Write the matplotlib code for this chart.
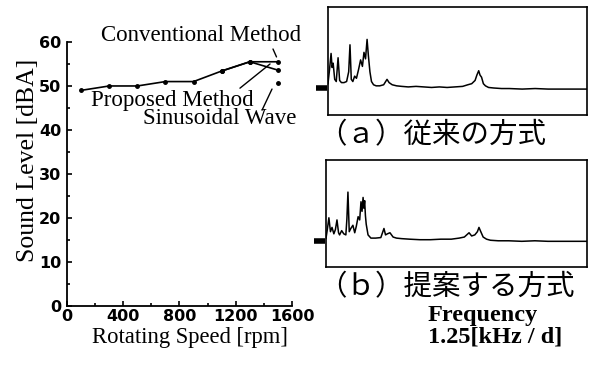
import matplotlib.pyplot as plt
from matplotlib.ticker import MultipleLocator

# 回転数と騒音レベル (左のグラフ)
speed = [100, 300, 500, 700, 900, 1100, 1300, 1500]
conventional = [49, 50, 50, 51, 51, 53.4, 55.5, 55.5]
proposed = [49, 50, 50, 51, 51, 53.4, 55.5, 53.6]
sine_speed = [1500]
sine_level = [50.6]

# 周波数スペクトル (a) 従来の方式
freq_a = [0, 0.6, 1.2, 1.6, 2.0, 2.6, 3.2, 3.9, 4.5, 5.2,
          6.2, 7.2, 8.0, 8.5, 9.0, 9.6, 10.3, 11.0, 11.8, 12.6,
          13.3, 13.9, 14.5, 15.1, 15.6, 16.2, 16.8, 17.6, 18.6, 20.0,
          21.5, 22.8, 23.6, 24.8, 26.5, 28.5, 31, 34, 37, 40,
          43, 46, 49, 52, 54, 55.5, 56.8, 57.5, 58.2, 58.7,
          59.3, 60.0, 60.8, 62, 64, 67, 70, 75, 80, 85,
          90, 95, 100]
level_a = [29, 42, 57, 44, 48, 33, 31, 53, 32, 30,
           30, 31, 40, 65, 33, 31, 36, 34, 42, 51,
           45, 58, 52, 70, 55, 40, 31, 28, 27, 27,
           28, 33, 30, 28, 27, 26.5, 26, 26.5, 26, 25.5,
           26, 25.5, 26, 26.5, 28, 29, 32, 37, 41, 37,
           35, 29, 27, 25.5, 25, 24.5, 24.5, 24, 24.5, 24,
           24, 24, 24]
ref_a = 25

# 周波数スペクトル (b) 提案する方式
freq_b = [0, 0.5, 1.1, 1.7, 2.3, 3.0, 3.6, 4.2, 4.8, 5.2,
          6.0, 6.8, 7.6, 8.0, 8.4, 8.9, 9.5, 10.3, 11.0, 11.6,
          12.3, 12.9, 13.4, 13.8, 14.2, 14.5, 14.8, 15.1, 15.4, 16.1,
          17.2, 19, 21, 22.2, 22.8, 23.5, 24.5, 25.7, 27, 29,
          32, 36, 40, 44, 48, 51, 53, 54.8, 55.8, 57,
          58, 58.6, 59.3, 60.2, 61.5, 63, 66, 70, 75, 80,
          85, 90, 95, 100]
level_b = [27, 35, 46, 33, 37, 31, 35, 44, 32, 30,
           34, 31, 30, 45, 70, 33, 36, 39, 32, 38,
           47, 44, 61, 52, 65, 55, 62, 48, 40, 30,
           27, 27, 27.5, 36, 30, 31, 32, 28, 27, 26.5,
           26, 25.5, 25.5, 26, 26, 27, 28, 32, 29, 30,
           33, 37, 33, 28, 26, 25, 24.5, 24.5, 24, 24.5,
           24, 24, 24, 24]
ref_b = 24

serif = 'Liberation Serif'
jp = ['Noto Sans CJK JP', 'DejaVu Sans']

fig = plt.figure(figsize=(5.92, 3.74), dpi=100)

# ---- 左: 騒音レベル
ax = fig.add_axes([0.1132, 0.1818, 0.380, 0.706])
ax.plot(speed, conventional, color='black', lw=1.2, marker='o', ms=2.5)
ax.plot(speed[-3:], proposed[-3:], color='black', lw=1.2, marker='o', ms=2.5)
ax.plot(sine_speed, sine_level, 'o', color='black', ms=2.5)
ax.set_xlim(0, 1600)
ax.set_ylim(0, 60)
ax.xaxis.set_major_locator(MultipleLocator(400))
ax.xaxis.set_minor_locator(MultipleLocator(200))
ax.yaxis.set_major_locator(MultipleLocator(10))
ax.yaxis.set_minor_locator(MultipleLocator(5))
ax.tick_params(which='both', direction='in', width=1.2)
ax.tick_params(which='major', length=3.5)
ax.tick_params(which='minor', length=2)
ax.tick_params(axis='x', pad=2)
ax.tick_params(axis='y', pad=4)
for lab in ax.get_xticklabels() + ax.get_yticklabels():
    lab.set_fontfamily('DejaVu Sans')
    lab.set_fontweight('bold')
    lab.set_fontsize(11.5)
for s in ['top', 'right']:
    ax.spines[s].set_visible(False)
for s in ['left', 'bottom']:
    ax.spines[s].set_linewidth(1.3)

ax.set_xlabel('Rotating Speed [rpm]', family=serif, fontsize=16.3)
ax.set_ylabel('Sound Level [dBA]', family=serif, fontsize=18.5)
ax.xaxis.label.set_va('center')
ax.yaxis.label.set_va('center')
ax.xaxis.set_label_coords(0.547, -0.121)
ax.yaxis.set_label_coords(-0.173, 0.553)

ax.text(953, 61.4, 'Conventional Method', family=serif, fontsize=16.5,
        ha='center', va='center', clip_on=False)
ax.text(747, 46.8, 'Proposed Method', family=serif, fontsize=16.5,
        ha='center', va='center')
ax.text(1088, 42.5, 'Sinusoidal Wave', family=serif, fontsize=16.5,
        ha='center', va='center')
# 引き出し線
ax.annotate('', xy=(1490, 56.6), xytext=(1465, 58.4),
            arrowprops=dict(arrowstyle='-', lw=1, shrinkA=0, shrinkB=0),
            annotation_clip=False)
ax.annotate('', xy=(1444, 55.0), xytext=(1230, 49.5),
            arrowprops=dict(arrowstyle='-', lw=1, shrinkA=0, shrinkB=0))
ax.annotate('', xy=(1458, 49.3), xytext=(1387, 44.5),
            arrowprops=dict(arrowstyle='-', lw=1, shrinkA=0, shrinkB=0))

# ---- 右: スペクトル
def spectrum(rect, freq, level, ref):
    sx = fig.add_axes(rect)
    sx.plot(freq, level, color='black', lw=1.1)
    sx.plot([-4.6, -0.5], [ref, ref], color='black', lw=4,
            solid_capstyle='butt', clip_on=False)
    sx.set_xlim(0, 100)
    sx.set_ylim(0, 100)
    sx.set_xticks([])
    sx.set_yticks([])
    for s in sx.spines.values():
        s.set_linewidth(1.2)
    return sx

spectrum([0.554, 0.6925, 0.4375, 0.2888], freq_a, level_a, ref_a)
spectrum([0.5507, 0.2861, 0.4409, 0.2861], freq_b, level_b, ref_b)

fig.text(0.537, 1 - 135 / 374, '（ａ）従来の方式', family=jp, fontsize=20.5,
         ha='left', va='center')
fig.text(0.537, 1 - 287 / 374, '（ｂ）提案する方式', family=jp, fontsize=20.5,
         ha='left', va='center')
fig.text(428 / 592, 1 - 315 / 374, 'Frequency', family=serif, fontsize=17.5,
         fontweight='bold', ha='left', va='center')
fig.text(428 / 592, 1 - 337 / 374, '1.25[kHz / d]', family=serif, fontsize=17.5,
         fontweight='bold', ha='left', va='center')

fig.savefig('out.png', dpi=100)
